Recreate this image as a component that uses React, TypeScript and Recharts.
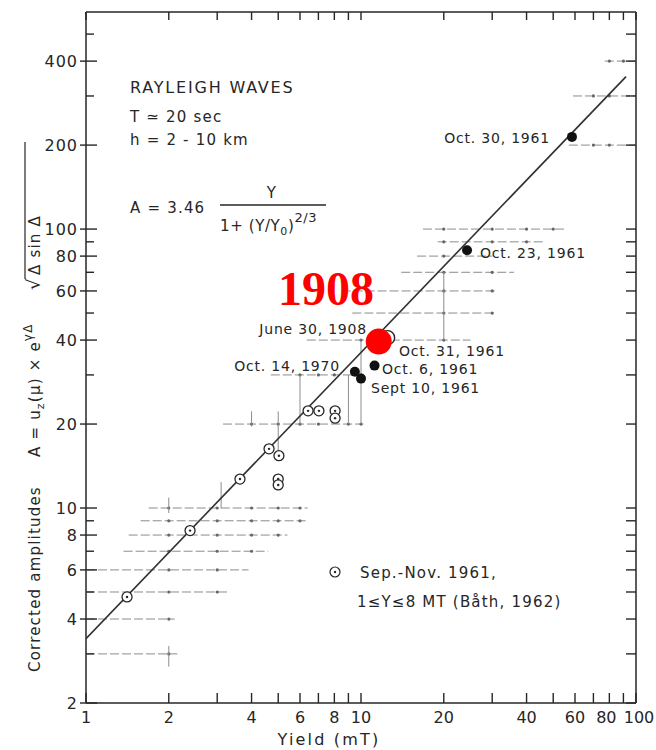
import { ScatterChart, Scatter, XAxis, YAxis } from 'recharts';

// axis ticks (log-log, yield in MT vs corrected amplitude)
const xTicks = [1, 2, 3, 4, 5, 6, 7, 8, 9, 10, 20, 30, 40, 50, 60, 70, 80, 90, 100];
const xLabeled = [1, 2, 4, 6, 8, 10, 20, 40, 60, 80, 100];
const yTicks = [2, 3, 4, 5, 6, 7, 8, 9, 10, 20, 30, 40, 50, 60, 70, 80, 90, 100, 200, 300, 400, 500];
const yLabeled = [2, 4, 6, 8, 10, 20, 40, 60, 80, 100, 200, 400];

// fitted line end points
const fitYield = [1, 92];
const fitAmp = [3.4, 352];

// Sep.-Nov. 1961 events (Bath, 1962)
const bathYield = [1.41, 2.39, 3.63, 4.63, 5.03, 5.0, 5.0, 6.42, 7.03, 8.05, 8.05];
const bathAmp = [4.8, 8.3, 12.7, 16.3, 15.4, 12.7, 12.1, 22.3, 22.3, 22.3, 21.0];

// named explosions (filled)
const eventNames = ['Oct. 14, 1970', 'Sept 10, 1961', 'Oct. 6, 1961', 'Oct. 23, 1961', 'Oct. 30, 1961'];
const eventYield = [9.5, 10.0, 11.2, 24.3, 58.5];
const eventAmp = [30.8, 29.1, 32.4, 84, 214];

const oct31Yield = [12.5];
const oct31Amp = [40.8];

const tunguskaYield = [11.6];
const tunguskaAmp = [39.5];

// horizontal error lines
const hBarAmp = [3, 4, 5, 6, 7, 8, 9, 10, 20, 30, 40, 50, 60, 70, 80, 90, 100, 200, 300, 400];
const hBarFrom = [1, 1, 1, 1, 1.37, 1.43, 1.58, 1.69, 3.15, 4.7, 6.35, 9.3, 8.5, 14, 16, 19, 16.8, 57, 59, 77];
const hBarTo = [2.15, 2.1, 3.3, 3.9, 4.6, 5.4, 6.3, 6.4, 10.2, 10.2, 25, 31, 31, 36, 30, 47, 56, 100, 100, 100];
const hBarDots = [[2], [2], [2, 3], [2, 3], [2, 3, 4], [2, 3, 4, 5], [2, 3, 4, 5, 6], [2, 3, 4, 5, 6], [4, 5, 6, 7, 9, 10],
  [6, 7, 8, 10], [10, 20], [20, 30], [20, 30], [20, 30], [20], [20, 30, 40], [20, 30, 40, 50], [70, 80], [70, 80], [80, 90]];

// vertical error lines
const vBarYield = [2, 2, 3.1, 4, 5, 6, 9, 10, 20];
const vBarLow = [2.7, 9.6, 10, 19.6, 15.5, 20, 20, 20, 40];
const vBarHigh = [3.2, 10.9, 12.4, 22.2, 22.2, 30, 30, 40, 70];

const INK = '#262626';
const FONT = '"DejaVu Sans", sans-serif';

const pts = (xs: number[], ys: number[]) => xs.map((x, i) => ({ x, y: ys[i] }));

const LeftTick = (props: any) => {
  const { x, y, payload } = props;
  const major = yLabeled.includes(payload.value);
  return (
    <g>
      <line x1={major ? x - 6 : x} y1={y} x2={x + (major ? 11 : 8)} y2={y} stroke={INK} strokeWidth={1.4} />
      {major && (
        <text x={x - 8} y={y + 6} textAnchor="end" fontSize={16} letterSpacing={1} fill={INK} fontFamily={FONT}>
          {payload.value}
        </text>
      )}
    </g>
  );
};

const RightTick = (props: any) => {
  const { x, y } = props;
  return <line x1={x} y1={y} x2={x - 10} y2={y} stroke={INK} strokeWidth={1.4} />;
};

const BottomTick = (props: any) => {
  const { x, y, payload } = props;
  const major = xLabeled.includes(payload.value);
  // the last labels sit a little off their ticks in the original
  const shift = payload.value === 100 ? 3 : payload.value === 80 ? -3 : 0;
  return (
    <g>
      <line x1={x} y1={y} x2={x} y2={y - 10} stroke={INK} strokeWidth={1.4} />
      {major && (
        <text x={x + shift} y={y + 20} textAnchor="middle" fontSize={16} letterSpacing={0} fill={INK} fontFamily={FONT}>
          {payload.value}
        </text>
      )}
    </g>
  );
};

const TopTick = (props: any) => {
  const { x, y } = props;
  return <line x1={x} y1={y} x2={x} y2={y + 8} stroke={INK} strokeWidth={1.4} />;
};

const Ring = (props: any) => (
  <g>
    <circle cx={props.cx} cy={props.cy} r={5} fill="#fff" stroke={INK} strokeWidth={1.3} />
    <circle cx={props.cx} cy={props.cy} r={1.2} fill={INK} />
  </g>
);

const Filled = (props: any) => <circle cx={props.cx} cy={props.cy} r={5} fill="#111" />;

const BigRing = (props: any) => <circle cx={props.cx} cy={props.cy} r={7} fill="#fff" stroke={INK} strokeWidth={1.4} />;

const RedDot = (props: any) => <circle cx={props.cx} cy={props.cy} r={13} fill="#ff0000" />;

const BarDot = (props: any) =>
  props.payload && props.payload.dot ? <circle cx={props.cx} cy={props.cy} r={1.6} fill="#666" /> : <g />;

const Nothing = () => <g />;

const App = () => {
  const hBars = hBarAmp.map((amp, i) => {
    const xs = [hBarFrom[i], ...hBarDots[i], hBarTo[i]];
    return xs.map((x, j) => ({ x, y: amp, dot: j > 0 && j < xs.length - 1 }));
  });
  const vBars = vBarYield.map((x, i) => [{ x, y: vBarLow[i] }, { x, y: vBarHigh[i] }]);

  const lbl = { fontFamily: FONT, fontSize: 14, fill: INK, letterSpacing: 0.8 } as const;
  const big = { fontFamily: FONT, fontSize: 15, fill: INK, letterSpacing: 1.2 } as const;
  const axisStroke = { stroke: INK, strokeWidth: 1.5 };

  return (
    <div style={{ position: 'absolute', left: 0, top: 0, width: 656, height: 750, background: '#fff' }}>
      <ScatterChart width={656} height={750} margin={{ top: 6, right: 10, bottom: 17, left: 26 }}>
        <XAxis dataKey="x" type="number" scale="log" domain={[1, 100]} allowDataOverflow ticks={xTicks} interval={0}
          height={30} tickSize={0} tickMargin={0} tick={<BottomTick />} axisLine={axisStroke} tickLine={false} />
        <XAxis xAxisId="t" orientation="top" dataKey="x" type="number" scale="log" domain={[1, 100]} allowDataOverflow
          ticks={xTicks} interval={0} height={6} tickSize={0} tickMargin={0} tick={<TopTick />}
          axisLine={axisStroke} tickLine={false} />
        <YAxis dataKey="y" type="number" scale="log" domain={[2, 600]} allowDataOverflow ticks={yTicks} interval={0}
          width={60} tickSize={0} tickMargin={0} tick={<LeftTick />} axisLine={axisStroke} tickLine={false} />
        <YAxis yAxisId="r" orientation="right" dataKey="y" type="number" scale="log" domain={[2, 600]} allowDataOverflow
          ticks={yTicks} interval={0} width={10} tickSize={0} tickMargin={0} tick={<RightTick />}
          axisLine={axisStroke} tickLine={false} />

        {hBars.map((d, i) => (
          <Scatter key={'h' + i} data={d} isAnimationActive={false} shape={<BarDot />}
            line={{ stroke: '#8c8c8c', strokeWidth: 1, strokeDasharray: '9 3' }} />
        ))}
        {vBars.map((d, i) => (
          <Scatter key={'v' + i} data={d} isAnimationActive={false} shape={<Nothing />}
            line={{ stroke: '#8c8c8c', strokeWidth: 1 }} />
        ))}

        <Scatter data={pts(fitYield, fitAmp)} isAnimationActive={false} shape={<Nothing />}
          line={{ stroke: '#303030', strokeWidth: 1.6 }} />
        <Scatter data={pts(bathYield, bathAmp)} isAnimationActive={false} shape={<Ring />} />
        <Scatter data={pts(oct31Yield, oct31Amp)} isAnimationActive={false} shape={<BigRing />} />
        <Scatter data={pts(eventYield, eventAmp)} isAnimationActive={false} shape={<Filled />} />
        <Scatter data={pts(tunguskaYield, tunguskaAmp)} isAnimationActive={false} shape={<RedDot />} />
      </ScatterChart>

      <svg width={656} height={750} style={{ position: 'absolute', left: 0, top: 0, pointerEvents: 'none' }}>
        {/* header block */}
        <text x={130} y={93} {...big} fontSize={16} letterSpacing={1.8}>RAYLEIGH WAVES</text>
        <text x={130} y={122} {...big}>T ≃ 20 sec</text>
        <text x={130} y={145} {...big}>h = 2 - 10 km</text>
        <text x={130} y={213} {...big}>A = 3.46</text>
        <text x={272} y={198} {...big} textAnchor="middle">Y</text>
        <line x1={220} y1={205} x2={326} y2={205} stroke={INK} strokeWidth={1.3} />
        <text x={220} y={231} {...big} letterSpacing={0.6}>
          1+ (Y/Y<tspan fontSize={11} dy={4}>0</tspan><tspan dy={-4}>)</tspan>
          <tspan fontSize={13} dy={-9}>2/3</tspan>
        </text>

        {/* y axis title */}
        <g transform="translate(40,672) rotate(-90)">
          <text x={0} y={0} {...big}>Corrected amplitudes</text>
          <text x={215} y={0} {...big}>
            A = u<tspan fontSize={11} dy={4}>z</tspan><tspan dy={-4}>(μ) × e</tspan>
            <tspan fontSize={12} dy={-8}>γΔ</tspan>
          </text>
          <text x={382} y={0} {...big} fontSize={18}>√</text>
          <line x1={393} y1={-15} x2={530} y2={-15} stroke={INK} strokeWidth={1.2} />
          <text x={397} y={0} {...big}>Δ sin Δ</text>
        </g>

        {/* x axis title */}
        <text x={329} y={745} {...big} fontSize={16} letterSpacing={2.2} textAnchor="middle">Yield (mT)</text>

        {/* point labels */}
        <text x={550} y={143} {...lbl} textAnchor="end">{eventNames[4]}</text>
        <text x={480} y={258} {...lbl}>{eventNames[3]}</text>
        <text x={367} y={334} {...lbl} textAnchor="end">June 30, 1908</text>
        <text x={399} y={356} {...lbl}>Oct. 31, 1961</text>
        <text x={340} y={371} {...lbl} textAnchor="end">{eventNames[0]}</text>
        <text x={382} y={374} {...lbl}>{eventNames[2]}</text>
        <text x={371} y={393} {...lbl}>{eventNames[1]}</text>

        <text x={326} y={305} fontFamily='"Liberation Serif", serif' fontWeight="bold" fontSize={48} fill="#ff0000"
          textAnchor="middle">1908</text>

        {/* legend */}
        <circle cx={335} cy={572} r={5} fill="#fff" stroke={INK} strokeWidth={1.2} />
        <circle cx={335} cy={572} r={1.2} fill={INK} />
        <text x={360} y={578} {...big}>Sep.-Nov. 1961,</text>
        <text x={357} y={607} {...big}>1≤Y≤8 MT (Båth, 1962)</text>
      </svg>
    </div>
  );
};

export default App;
